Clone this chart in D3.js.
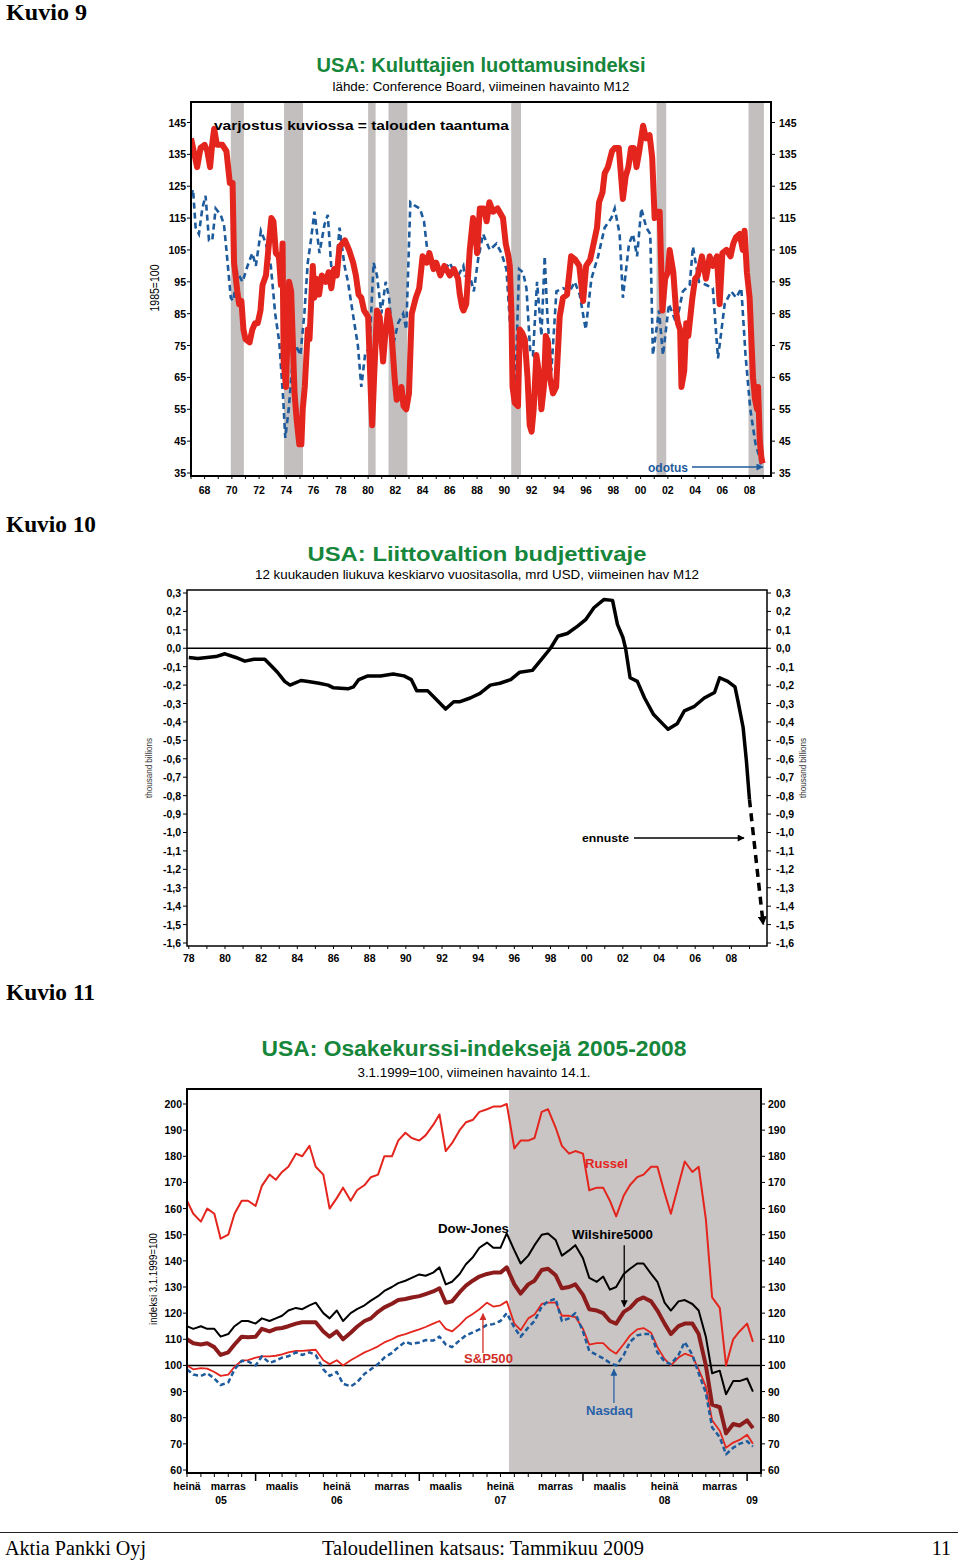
<!DOCTYPE html>
<html><head><meta charset="utf-8">
<script src="https://cdn.jsdelivr.net/npm/d3@7"></script>
<style>body{margin:0;background:#fff}svg{display:block}</style>
</head><body>
<svg id="page" width="960" height="1561"></svg>
<script>
// ---------------- DATA: Kuvio 9 (consumer confidence) ----------------
const confidence = [[1967.0,140],[1967.2,136],[1967.45,131],[1967.7,137],[1968.0,138],[1968.2,136],[1968.4,131],[1968.55,138],[1968.7,143],[1968.9,138],[1969.3,138],[1969.6,136],[1969.85,126],[1970.05,126],[1970.16,101],[1970.4,92],[1970.53,88],[1970.7,89],[1970.85,80],[1971.0,77],[1971.3,76],[1971.5,80],[1971.7,82],[1971.9,82],[1972.1,86],[1972.25,94],[1972.5,97],[1972.74,108],[1972.9,115],[1973.05,114],[1973.23,104],[1973.45,103],[1973.6,94],[1973.72,107],[1973.8,70],[1973.97,62],[1974.1,80],[1974.2,95],[1974.35,92],[1974.46,78],[1974.6,60],[1974.75,52],[1974.95,44],[1975.1,44],[1975.2,55],[1975.35,62],[1975.57,80],[1975.7,77],[1975.94,100],[1976.05,90],[1976.2,96],[1976.4,91],[1976.6,97],[1976.9,95],[1977.1,98],[1977.3,93],[1977.5,99],[1977.7,97],[1977.9,106],[1978.3,108],[1978.6,105],[1978.9,101],[1979.1,97],[1979.3,91],[1979.5,90],[1979.7,86],[1979.85,85],[1980.0,84],[1980.2,60],[1980.3,50],[1980.45,66],[1980.65,86],[1980.85,84],[1981.1,70],[1981.25,78],[1981.46,86],[1981.7,80],[1981.96,64],[1982.1,58],[1982.35,60],[1982.45,62],[1982.6,56],[1982.8,55],[1983.0,60],[1983.2,85],[1983.5,90],[1983.75,93],[1984.0,103],[1984.3,101],[1984.5,104],[1984.8,99],[1985.0,101],[1985.3,97],[1985.6,100],[1986.0,97],[1986.3,99],[1986.6,96],[1986.73,91],[1986.9,87],[1987.0,86],[1987.2,88],[1987.46,105],[1987.7,115],[1987.85,112],[1988.0,104],[1988.2,118],[1988.5,118],[1988.7,114],[1988.9,120],[1989.17,117],[1989.5,118],[1989.9,115],[1990.1,107],[1990.3,103],[1990.4,100],[1990.52,85],[1990.6,62],[1990.76,57],[1991.0,56],[1991.13,80],[1991.3,79],[1991.5,77],[1991.7,65],[1991.86,50],[1992.0,48],[1992.15,55],[1992.35,72],[1992.55,66],[1992.72,55],[1992.9,62],[1993.04,78],[1993.2,76],[1993.33,65],[1993.57,60],[1993.8,62],[1994.06,84],[1994.3,90],[1994.6,91],[1994.9,103],[1995.2,102],[1995.5,100],[1995.78,89],[1996.0,100],[1996.3,102],[1996.5,106],[1996.8,112],[1996.95,120],[1997.2,123],[1997.36,129],[1997.6,131],[1997.9,136],[1998.1,137],[1998.4,137],[1998.7,121],[1998.9,128],[1999.1,131],[1999.3,137],[1999.5,137],[1999.7,131],[1999.9,136],[2000.18,144],[2000.4,140],[2000.66,141],[2000.85,134],[2001.03,115],[2001.2,117],[2001.4,117],[2001.6,86],[2001.8,96],[2002.0,98],[2002.13,105],[2002.4,98],[2002.6,86],[2002.74,82],[2002.9,80],[2003.0,62],[2003.2,67],[2003.35,82],[2003.5,78],[2003.8,90],[2004.0,96],[2004.2,97],[2004.5,103],[2004.8,96],[2005.07,103],[2005.3,100],[2005.6,103],[2005.8,88],[2006.0,104],[2006.3,105],[2006.6,103],[2006.8,107],[2007.0,109],[2007.27,110],[2007.5,105],[2007.63,111],[2007.8,98],[2008.0,90],[2008.15,75],[2008.25,65],[2008.4,58],[2008.55,55],[2008.62,62],[2008.75,45],[2008.86,40],[2008.95,38]];
const expectations = [[1967.0,122],[1967.15,124],[1967.34,112],[1967.58,110],[1967.83,118],[1968.07,122],[1968.32,108],[1968.56,108],[1968.81,118],[1969.18,116],[1969.42,113],[1969.6,105],[1969.92,90],[1970.1,89],[1970.4,98],[1970.78,95],[1971.15,100],[1971.5,104],[1971.76,100],[1972.13,111],[1972.5,107],[1972.86,100],[1973.18,85],[1973.48,76],[1973.77,58],[1973.92,46],[1974.17,55],[1974.46,70],[1974.7,75],[1975.03,72],[1975.32,85],[1975.57,101],[1975.8,108],[1976.06,117],[1976.43,104],[1976.8,113],[1977.04,116],[1977.29,100],[1977.66,99],[1977.9,112],[1978.27,100],[1978.52,95],[1978.88,85],[1979.25,75],[1979.5,62],[1979.8,73],[1980.1,74],[1980.4,101],[1980.65,97],[1980.97,85],[1981.29,95],[1981.54,90],[1981.83,75],[1982.2,82],[1982.57,85],[1982.8,80],[1983.1,120],[1983.4,119],[1983.8,118],[1984.1,114],[1984.34,105],[1984.66,102],[1985.0,100],[1985.5,98],[1986.0,101],[1986.5,96],[1986.99,100],[1987.1,97],[1987.46,97],[1987.76,92],[1988.07,102],[1988.44,110],[1988.93,105],[1989.42,107],[1989.78,104],[1990.15,99],[1990.52,75],[1990.76,57],[1991.08,99],[1991.37,98],[1991.62,93],[1991.9,73],[1992.1,72],[1992.4,95],[1992.72,78],[1992.96,103],[1993.16,84],[1993.45,67],[1993.82,92],[1994.3,93],[1994.8,92],[1995.16,95],[1995.53,91],[1995.97,80],[1996.39,96],[1996.88,103],[1997.36,112],[1997.85,115],[1998.1,118],[1998.46,110],[1998.7,90],[1999.15,107],[1999.44,110],[1999.74,103],[2000.05,118],[2000.42,112],[2000.71,110],[2000.9,72],[2001.35,86],[2001.64,72],[2002.08,88],[2002.62,82],[2003.1,92],[2003.6,94],[2003.84,106],[2004.28,95],[2004.82,94],[2005.3,93],[2005.68,71],[2006.17,88],[2006.65,92],[2007.02,90],[2007.39,93],[2007.7,72],[2008.05,55],[2008.44,44],[2008.73,40],[2008.86,37]];
const recessionStart = [1969.92,1973.83,1980.0,1981.5,1990.5,2001.17,2007.92];
const recessionEnd   = [1970.88,1975.22,1980.55,1982.88,1991.22,2001.88,2009.05];
const confYTicks = [145,135,125,115,105,95,85,75,65,55,45,35];
const confXYears = [1968,1970,1972,1974,1976,1978,1980,1982,1984,1986,1988,1990,1992,1994,1996,1998,2000,2002,2004,2006,2008];
const confXLabels = ['68','70','72','74','76','78','80','82','84','86','88','90','92','94','96','98','00','02','04','06','08'];

// ---------------- DATA: Kuvio 10 (federal budget balance) ----------------
const budget = [[1978.0,-0.05],[1978.5,-0.055],[1979.0,-0.05],[1979.5,-0.045],[1980.0,-0.03],[1980.6,-0.05],[1981.1,-0.07],[1981.6,-0.06],[1982.2,-0.06],[1982.5,-0.09],[1982.9,-0.13],[1983.3,-0.18],[1983.6,-0.20],[1984.2,-0.175],[1984.6,-0.18],[1985.2,-0.19],[1985.7,-0.20],[1986.0,-0.215],[1986.8,-0.22],[1987.1,-0.21],[1987.4,-0.17],[1987.9,-0.15],[1988.6,-0.15],[1989.3,-0.14],[1989.9,-0.15],[1990.3,-0.17],[1990.6,-0.23],[1991.2,-0.23],[1991.7,-0.28],[1992.2,-0.33],[1992.65,-0.29],[1993.0,-0.29],[1993.56,-0.27],[1994.1,-0.245],[1994.67,-0.20],[1995.2,-0.19],[1995.8,-0.17],[1996.3,-0.13],[1997.0,-0.12],[1997.5,-0.06],[1998.0,0.0],[1998.4,0.065],[1998.93,0.08],[1999.5,0.12],[1999.94,0.155],[2000.4,0.22],[2000.96,0.265],[2001.43,0.26],[2001.7,0.13],[2002.0,0.06],[2002.15,0.0],[2002.4,-0.16],[2002.8,-0.18],[2003.2,-0.27],[2003.7,-0.36],[2004.3,-0.42],[2004.5,-0.44],[2005.0,-0.41],[2005.4,-0.34],[2005.96,-0.315],[2006.5,-0.27],[2007.07,-0.24],[2007.35,-0.16],[2007.8,-0.18],[2008.2,-0.21],[2008.37,-0.29],[2008.65,-0.43],[2008.83,-0.61],[2009.0,-0.82]];
const budgetForecast = [[2009.0,-0.82],[2009.76,-1.5]];
const budgetYTicks = [0.3,0.2,0.1,0.0,-0.1,-0.2,-0.3,-0.4,-0.5,-0.6,-0.7,-0.8,-0.9,-1.0,-1.1,-1.2,-1.3,-1.4,-1.5,-1.6];
const budgetXYears = [1978,1980,1982,1984,1986,1988,1990,1992,1994,1996,1998,2000,2002,2004,2006,2008];
const budgetXLabels = ['78','80','82','84','86','88','90','92','94','96','98','00','02','04','06','08'];

// ---------------- DATA: Kuvio 11 (stock indices, 3.1.1999=100) ----------------
const stockDates = ["2005-08-01","2005-08-15","2005-09-01","2005-09-15","2005-10-01","2005-10-15","2005-11-01","2005-11-15","2005-12-01","2005-12-15",
"2006-01-01","2006-01-15","2006-02-01","2006-02-15","2006-03-01","2006-03-15","2006-04-01","2006-04-15","2006-05-01","2006-05-15","2006-06-01","2006-06-15","2006-07-01","2006-07-15","2006-08-01","2006-08-15","2006-09-01","2006-09-15","2006-10-01","2006-10-15","2006-11-01","2006-11-15","2006-12-01","2006-12-15",
"2007-01-01","2007-01-15","2007-02-01","2007-02-15","2007-03-01","2007-03-15","2007-04-01","2007-04-15","2007-05-01","2007-05-15","2007-06-01","2007-06-15","2007-07-01","2007-07-15","2007-08-01","2007-08-15","2007-09-01","2007-09-15","2007-10-01","2007-10-15","2007-11-01","2007-11-15","2007-12-01","2007-12-15",
"2008-01-01","2008-01-15","2008-02-01","2008-02-15","2008-03-01","2008-03-15","2008-04-01","2008-04-15","2008-05-01","2008-05-15","2008-06-01","2008-06-15","2008-07-01","2008-07-15","2008-08-01","2008-08-15","2008-09-01","2008-09-15","2008-10-01","2008-10-15","2008-11-01","2008-11-15","2008-12-01","2008-12-15",
"2009-01-01","2009-01-14"];
const russell = [163,158,155,160,158,148.5,150,158,163,163,161,168.7,173,171,174,176,181,180,184,176,173,160,164,168,
163,167,169,172,173,180,180,186,189,187,186,188,192,196,182,185,190,193,194,197,198,199,199,200,
183,186,186,187,197,198,191,184,181,182,181,167,168,168,163,157,165,169,
172,173,176,176,166,158,169,178,174,176,156,126,122,100,110,113,
116,109];
const dowJones = [115,114,115,114,114,111,112,115,117,117,116,118,117,118,119,121,122,121.5,123,124,120,118,121,117,
120,121.5,123,124.8,126.5,128.5,130,131.5,132.4,133.5,134.8,134.3,135.5,137.5,131,132,135,138.7,141.5,145,147,145,145,150.5,
144,139,142,146,150,150.5,148,142,144,146,141,133.5,132,134,129,130,135,137,
139,139,135,132,124,121,124.5,125,123.5,121,111,97,98,89,94,94,
95,90];
const wilshire = [110,108.5,108,108.5,107,104,105,108,111,110.8,111,114,113,114,114.3,115,116,116.5,116.5,116.5,113,111,113,110,
112.5,114.8,117,118,120.5,122.2,123.6,125,125.4,126,126.5,127.3,128.3,129.5,124,124.5,128,130.5,132.5,134,135,135.5,135.5,137.5,
131,127.5,131,132.4,136.5,137,134.5,129.5,130,131,127,121.5,121,120,117,116,120.5,122,
125,126,124.5,121,116,112,115,116,116,112,100,85,84,74,77.6,77,
79,76];
const sp500 = [100,98.5,99,98.8,97.5,96,96.5,99.5,101.8,102,103,103.5,103.5,103.7,104.2,105,105.6,105.6,105.8,106,102,100.5,102,100,
102,103.3,105,106,107.3,108.8,110,111.2,112,112.8,113.8,114.7,116,117,114,113,115.5,118,119.8,121.5,124,122.5,123,124.5,
116,113.5,118,119.5,123.5,124,124,119,119,118.5,114,108,108.5,108.5,106,104.5,108.2,111.5,
113.8,114.3,112.5,107,102.5,100,103,104.5,103.5,98.5,92,79,75,68.5,70.5,71.5,
73.5,70];
const nasdaq = [98.5,96.5,96,97,95,92.5,93.5,98.5,101.8,101.5,100,103.5,101,101.8,103,103.5,105,104,105,104,98.5,96,97.5,93,
92,93.5,96.8,98.5,100.5,103,104.8,107,109,108.2,108.8,109.7,109.5,111,108,107,109.6,111.5,112.7,113.8,115.5,115.8,117,120,
114.5,111,114.5,117,122.5,124.5,125.5,117,118,120,113,105.5,104,102.7,101,100,104,109,
111.5,112,112,105,101.5,100.5,104,109,104,97,89.5,76.3,72.5,66,68.5,70,
71,69];
const stockYTicks = [200,190,180,170,160,150,140,130,120,110,100,90,80,70,60];
const stockMonthLabels = ['heinä','marras','maalis','heinä','marras','maalis','heinä','marras','maalis','heinä','marras'];
const stockMonthDates = ['2005-07-01','2005-11-01','2006-03-01','2006-07-01','2006-11-01','2007-03-01','2007-07-01','2007-11-01','2008-03-01','2008-07-01','2008-11-01'];
const stockYearLabels = ['05','06','07','08','09'];
const stockYearDates = ['2005-10-16','2006-07-01','2007-07-01','2008-07-01','2009-01-12'];
const crisisStart = '2007-07-20';

// ---------------- DRAWING ----------------
const svg = d3.select('#page');
const GREEN = '#16863b', RED = '#e3251d', BLUE = '#1d5b9c', MAROON = '#8c1c1c', BAND = '#c3bfbf', SHADE = '#c9c5c5';
const SANS = '"Liberation Sans", Arial, Helvetica, sans-serif';
const SERIF = '"Liberation Serif", "Times New Roman", serif';
const parse = d3.timeParse('%Y-%m-%d');

const defs = svg.append('defs');
function marker(id, color, w, h) {
  defs.append('marker').attr('id', id).attr('viewBox', '0 0 10 10').attr('refX', 9).attr('refY', 5)
    .attr('markerWidth', w).attr('markerHeight', h).attr('orient', 'auto').attr('markerUnits', 'userSpaceOnUse')
    .append('path').attr('d', 'M0,0 L10,5 L0,10 z').attr('fill', color);
}
marker('arrBlue', BLUE, 10, 7);
marker('arrBlack', '#000', 10, 7);
marker('arrRed', '#d2302a', 10, 7);
marker('arrBlackBig', '#000', 9, 9);

function txt(g, x, y, s, o = {}) {
  const t = g.append('text').attr('x', x).attr('y', y).text(s)
    .attr('font-family', o.family || SANS).attr('font-size', o.size || 11)
    .attr('font-weight', o.weight || 'normal').attr('fill', o.fill || '#000')
    .attr('text-anchor', o.anchor || 'start');
  if (o.len) t.attr('textLength', o.len).attr('lengthAdjust', 'spacingAndGlyphs');
  if (o.rotate) t.attr('transform', `rotate(${o.rotate},${x},${y})`);
  return t;
}

// Page headings & footer
txt(svg, 6, 20, 'Kuvio 9', {family: SERIF, size: 23, weight: 'bold', len: 81});
txt(svg, 6, 532, 'Kuvio 10', {family: SERIF, size: 23, weight: 'bold', len: 90});
txt(svg, 6, 1000, 'Kuvio 11', {family: SERIF, size: 23, weight: 'bold', len: 89});
svg.append('line').attr('x1', 0).attr('x2', 958).attr('y1', 1532.5).attr('y2', 1532.5).attr('stroke', '#222').attr('stroke-width', 1);
txt(svg, 5, 1555, 'Aktia Pankki Oyj', {family: SERIF, size: 20, len: 141});
txt(svg, 322, 1555, 'Taloudellinen katsaus: Tammikuu 2009', {family: SERIF, size: 20, len: 322});
txt(svg, 951, 1555, '11', {family: SERIF, size: 20, anchor: 'end'});

// ======== Chart 1 ========
(function () {
  const L = 191, R = 771, T = 102, B = 476;
  const x = d3.scaleLinear().domain([1967, 2009.57]).range([L, R]);
  const y = d3.scaleLinear().domain([35, 145]).range([473, 122.5]);
  const g = svg.append('g');
  txt(g, 481, 72, 'USA: Kuluttajien luottamusindeksi', {size: 20, weight: 'bold', fill: GREEN, anchor: 'middle', len: 329});
  txt(g, 481, 91, 'lähde: Conference Board, viimeinen havainto M12', {size: 12.5, anchor: 'middle', len: 297});
  g.selectAll('rect.band').data(recessionStart).join('rect').attr('class', 'band')
    .attr('x', d => x(d)).attr('width', (d, i) => x(recessionEnd[i]) - x(d))
    .attr('y', T + 1).attr('height', B - T - 2).attr('fill', BAND);
  defs.append('clipPath').attr('id', 'clip1').append('rect').attr('x', L).attr('y', T).attr('width', R - L).attr('height', B - T);
  const line = d3.line().x(d => x(d[0])).y(d => y(d[1]));
  g.append('path').datum(expectations).attr('d', line).attr('fill', 'none').attr('stroke', BLUE)
    .attr('stroke-width', 2.6).attr('stroke-dasharray', '6,4').attr('clip-path', 'url(#clip1)');
  g.append('path').datum(confidence).attr('d', line).attr('fill', 'none').attr('stroke', RED)
    .attr('stroke-width', 6).attr('stroke-linejoin', 'round').attr('clip-path', 'url(#clip1)');
  g.append('rect').attr('x', L).attr('y', T).attr('width', R - L).attr('height', B - T)
    .attr('fill', 'none').attr('stroke', '#000').attr('stroke-width', 2);
  // y ticks and labels
  confYTicks.forEach(v => {
    g.append('line').attr('x1', L - 4).attr('x2', L).attr('y1', y(v)).attr('y2', y(v)).attr('stroke', '#000');
    g.append('line').attr('x1', R).attr('x2', R + 4).attr('y1', y(v)).attr('y2', y(v)).attr('stroke', '#000');
    txt(g, L - 5, y(v) + 4, String(v), {size: 10.5, weight: 'bold', anchor: 'end'});
    txt(g, R + 8, y(v) + 4, String(v), {size: 10.5, weight: 'bold'});
  });
  d3.range(1967, 2010).forEach(yr => g.append('line').attr('x1', x(yr)).attr('x2', x(yr)).attr('y1', B).attr('y2', B + 3).attr('stroke', '#000'));
  confXYears.forEach((yr, i) => txt(g, x(yr), 494, confXLabels[i], {size: 10.5, weight: 'bold', anchor: 'middle'}));
  txt(g, 214, 130, 'varjostus kuviossa = talouden taantuma', {size: 13, weight: 'bold', len: 295});
  txt(g, 159, 288, '1985=100', {size: 12, anchor: 'middle', rotate: -90, len: 47});
  txt(g, 648, 472, 'odotus', {size: 12, weight: 'bold', fill: BLUE, len: 40});
  g.append('line').attr('x1', 692).attr('x2', x(2008.97)).attr('y1', 467).attr('y2', 467)
    .attr('stroke', BLUE).attr('stroke-width', 1.5).attr('marker-end', 'url(#arrBlue)');
})();

// ======== Chart 2 ========
(function () {
  const L = 187, R = 767, T = 590, B = 946;
  const x = d3.scaleLinear().domain([1977.9, 2009.97]).range([L, R]);
  const y = d3.scaleLinear().domain([-1.6, 0.3]).range([943, 593]);
  const fmt = d3.formatLocale({decimal: ',', thousands: ' ', grouping: [3], currency: ['', ''], minus: '-'}).format('.1f');
  const g = svg.append('g');
  txt(g, 477, 561, 'USA: Liittovaltion budjettivaje', {size: 21, weight: 'bold', fill: GREEN, anchor: 'middle', len: 339});
  txt(g, 477, 579, '12 kuukauden liukuva keskiarvo vuositasolla, mrd USD, viimeinen hav M12', {size: 12, anchor: 'middle', len: 444});
  g.append('rect').attr('x', L).attr('y', T).attr('width', R - L).attr('height', B - T)
    .attr('fill', 'none').attr('stroke', '#000').attr('stroke-width', 1.5);
  g.append('line').attr('x1', L).attr('x2', R).attr('y1', y(0)).attr('y2', y(0)).attr('stroke', '#000').attr('stroke-width', 1.3);
  budgetYTicks.forEach(v => {
    g.append('line').attr('x1', L - 4).attr('x2', L).attr('y1', y(v)).attr('y2', y(v)).attr('stroke', '#000');
    g.append('line').attr('x1', R).attr('x2', R + 4).attr('y1', y(v)).attr('y2', y(v)).attr('stroke', '#000');
    txt(g, L - 6, y(v) + 4, fmt(v), {size: 10.5, weight: 'bold', anchor: 'end'});
    txt(g, R + 9, y(v) + 4, fmt(v), {size: 10.5, weight: 'bold'});
  });
  d3.range(1978, 2010).forEach(yr => g.append('line').attr('x1', x(yr)).attr('x2', x(yr)).attr('y1', B).attr('y2', B + 3).attr('stroke', '#000'));
  budgetXYears.forEach((yr, i) => txt(g, x(yr), 962, budgetXLabels[i], {size: 10.5, weight: 'bold', anchor: 'middle'}));
  const line = d3.line().x(d => x(d[0])).y(d => y(d[1]));
  g.append('path').datum(budget).attr('d', line).attr('fill', 'none').attr('stroke', '#000')
    .attr('stroke-width', 3.5).attr('stroke-linejoin', 'round');
  g.append('path').datum(budgetForecast).attr('d', line).attr('fill', 'none').attr('stroke', '#000')
    .attr('stroke-width', 3.5).attr('stroke-dasharray', '8,6').attr('marker-end', 'url(#arrBlackBig)');
  txt(g, 152, 768, 'thousand billions', {size: 9.5, fill: '#333', anchor: 'middle', rotate: -90, len: 60});
  txt(g, 806, 768, 'thousand billions', {size: 9.5, fill: '#333', anchor: 'middle', rotate: -90, len: 60});
  txt(g, 582, 842, 'ennuste', {size: 11.5, weight: 'bold', len: 47});
  g.append('line').attr('x1', 634).attr('x2', 744).attr('y1', 838).attr('y2', 838)
    .attr('stroke', '#000').attr('stroke-width', 1.3).attr('marker-end', 'url(#arrBlack)');
})();

// ======== Chart 3 ========
(function () {
  const L = 187, R = 761, T = 1089, B = 1473;
  const x = d3.scaleTime().domain([new Date(2005, 7, 1), new Date(2009, 1, 1)]).range([L, R]).clamp(true);
  const y = d3.scaleLinear().domain([60, 200]).range([1470, 1104]);
  const dates = stockDates.map(parse);
  const g = svg.append('g');
  txt(g, 474, 1056, 'USA:  Osakekurssi-indeksejä 2005-2008', {size: 22, weight: 'bold', fill: GREEN, anchor: 'middle', len: 425});
  txt(g, 474, 1077, '3.1.1999=100, viimeinen havainto 14.1.', {size: 12.5, anchor: 'middle', len: 233});
  g.append('rect').attr('x', x(parse(crisisStart))).attr('y', T).attr('width', R - x(parse(crisisStart))).attr('height', B - T).attr('fill', SHADE);
  g.append('line').attr('x1', L).attr('x2', R).attr('y1', y(100)).attr('y2', y(100)).attr('stroke', '#000').attr('stroke-width', 1.4);
  defs.append('clipPath').attr('id', 'clip3').append('rect').attr('x', L).attr('y', T).attr('width', R - L).attr('height', B - T);
  const series = [
    {v: russell, c: RED, w: 2},
    {v: dowJones, c: '#000', w: 2},
    {v: wilshire, c: MAROON, w: 4},
    {v: sp500, c: RED, w: 1.8},
    {v: nasdaq, c: BLUE, w: 2.5, dash: '5,3'}
  ];
  series.forEach(s => {
    const line = d3.line().x((d, i) => x(dates[i])).y(d => y(d));
    const p = g.append('path').datum(s.v).attr('d', line).attr('fill', 'none').attr('stroke', s.c)
      .attr('stroke-width', s.w).attr('stroke-linejoin', 'round').attr('clip-path', 'url(#clip3)');
    if (s.dash) p.attr('stroke-dasharray', s.dash);
  });
  g.append('rect').attr('x', L).attr('y', T).attr('width', R - L).attr('height', B - T)
    .attr('fill', 'none').attr('stroke', '#000').attr('stroke-width', 2);
  stockYTicks.forEach(v => {
    g.append('line').attr('x1', L - 4).attr('x2', L).attr('y1', y(v)).attr('y2', y(v)).attr('stroke', '#000');
    g.append('line').attr('x1', R).attr('x2', R + 4).attr('y1', y(v)).attr('y2', y(v)).attr('stroke', '#000');
    txt(g, L - 5, y(v) + 4, String(v), {size: 10.5, weight: 'bold', anchor: 'end'});
    txt(g, R + 7, y(v) + 4, String(v), {size: 10.5, weight: 'bold'});
  });
  d3.timeMonth.range(new Date(2005, 7, 1), new Date(2009, 1, 2)).forEach(d => {
    const big = d.getMonth() === 0;
    g.append('line').attr('x1', x(d)).attr('x2', x(d)).attr('y1', B).attr('y2', B + (big ? 8 : 4))
      .attr('stroke', '#000').attr('stroke-width', big ? 1.5 : 1);
  });
  stockMonthDates.forEach((d, i) => txt(g, x(parse(d)), 1490, stockMonthLabels[i], {size: 10.5, weight: 'bold', anchor: 'middle'}));
  stockYearDates.forEach((d, i) => txt(g, x(parse(d)), 1504, stockYearLabels[i], {size: 10.5, weight: 'bold', anchor: 'middle'}));
  txt(g, 157, 1279, 'indeksi 3.1.1999=100', {size: 11, anchor: 'middle', rotate: -90, len: 92});
  // annotations
  txt(g, 438, 1233, 'Dow-Jones', {size: 13, weight: 'bold', len: 71});
  txt(g, 572, 1239, 'Wilshire5000', {size: 13, weight: 'bold', len: 81});
  txt(g, 585, 1168, 'Russel', {size: 13, weight: 'bold', fill: RED, len: 43});
  txt(g, 464, 1363, 'S&P500', {size: 13, weight: 'bold', fill: '#d2302a', len: 49});
  txt(g, 586, 1415, 'Nasdaq', {size: 13, weight: 'bold', fill: '#2a62a8', len: 47});
  const ax = parse('2008-04-02'), sx = parse('2007-05-23'), nx = parse('2008-03-10');
  g.append('line').attr('x1', x(ax)).attr('x2', x(ax)).attr('y1', y(146)).attr('y2', y(122.5))
    .attr('stroke', '#000').attr('stroke-width', 1.3).attr('marker-end', 'url(#arrBlack)');
  g.append('line').attr('x1', x(sx)).attr('x2', x(sx)).attr('y1', y(104.8)).attr('y2', y(119.8))
    .attr('stroke', '#d2302a').attr('stroke-width', 1.3).attr('marker-end', 'url(#arrRed)');
  g.append('line').attr('x1', x(nx)).attr('x2', x(nx)).attr('y1', y(85.6)).attr('y2', y(98.5))
    .attr('stroke', '#2a62a8').attr('stroke-width', 1.3).attr('marker-end', 'url(#arrBlue)');
})();
</script>
</body></html>
